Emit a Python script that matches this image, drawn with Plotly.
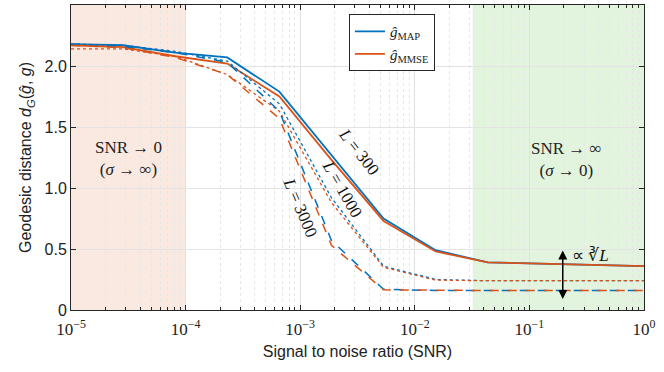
import numpy as np
import plotly.graph_objects as go

# SNR sample points (log spaced, 12 points from 1e-5 to 1)
snr = np.logspace(-5, 0, 12)

# geodesic distance
map_300 = [2.18, 2.17, 2.11, 2.07, 1.79, 1.27, 0.75, 0.49, 0.39, 0.38, 0.37, 0.36]
mmse_300 = [2.17, 2.155, 2.08, 2.02, 1.75, 1.23, 0.73, 0.48, 0.39, 0.38, 0.37, 0.36]
map_1000 = [2.18, 2.17, 2.12, 2.04, 1.69, 0.92, 0.36, 0.25, 0.24, 0.24, 0.24, 0.24]
mmse_1000 = [2.14, 2.14, 2.08, 1.93, 1.63, 0.88, 0.35, 0.245, 0.24, 0.24, 0.24, 0.24]
map_3000 = [2.18, 2.16, 2.11, 2.03, 1.63, 0.57, 0.17, 0.16, 0.16, 0.16, 0.16, 0.16]
mmse_3000 = [2.17, 2.15, 2.07, 1.93, 1.57, 0.53, 0.165, 0.16, 0.16, 0.16, 0.16, 0.16]

y_ticks = [0, 0.5, 1.0, 1.5, 2.0, 2.5]
y_ticktext = ["0", "0.5", "1.0", "1.5", "2.0", "2.5"]
x_ticks = [1e-5, 1e-4, 1e-3, 1e-2, 1e-1, 1]
x_ticktext = ["10<sup>\u22125</sup>", "10<sup>\u22124</sup>", "10<sup>\u22123</sup>",
              "10<sup>\u22122</sup>", "10<sup>\u22121</sup>", "10<sup>0</sup>"]
x_minor = [m * 10.0 ** e for e in range(-5, 0) for m in range(2, 10)]

BLUE = "#0072BD"
ORANGE = "#D95319"
SERIF = "Liberation Serif"
SANS = "Liberation Sans"

fig = go.Figure()

series = [
    (map_300, BLUE, "solid", 1.8, "<i>ĝ</i><sub>MAP</sub>", True),
    (mmse_300, ORANGE, "solid", 1.8, "<i>ĝ</i><sub>MMSE</sub>", True),
    (map_1000, BLUE, "dot", 1.3, "MAP L=1000", False),
    (mmse_1000, ORANGE, "dot", 1.3, "MMSE L=1000", False),
    (map_3000, BLUE, "dash", 1.5, "MAP L=3000", False),
    (mmse_3000, ORANGE, "dash", 1.5, "MMSE L=3000", False),
]
for vals, col, dash, w, name, leg in series:
    fig.add_trace(go.Scatter(x=snr, y=vals, mode="lines", name=name, showlegend=leg,
                             line=dict(color=col, dash=dash, width=w)))

# shaded regimes
fig.add_shape(type="rect", xref="x", yref="y", x0=1e-5, x1=1e-4, y0=0, y1=2.5,
              fillcolor="#FAE9E0", line=dict(width=0), layer="below")
fig.add_shape(type="rect", xref="x", yref="y", x0=0.032, x1=1, y0=0, y1=2.5,
              fillcolor="#E3F4DE", line=dict(width=0), layer="below")

txt_font = dict(family=SERIF, size=17, color="#222222")
fig.add_annotation(x=-4.494, y=1.24, text="SNR \u2192 0<br>(<i>\u03c3</i> \u2192 \u221e)",
                   showarrow=False, font=txt_font)
fig.add_annotation(x=-0.672, y=1.23, text="SNR \u2192 \u221e<br>(<i>\u03c3</i> \u2192 0)",
                   showarrow=False, font=txt_font)

lab_font = dict(family=SERIF, size=17, color="#111111")
fig.add_annotation(x=-2.49, y=1.30, text="<i>L</i> = 300", textangle=52,
                   showarrow=False, font=lab_font)
fig.add_annotation(x=-2.63, y=0.99, text="<i>L</i> = 1000", textangle=60,
                   showarrow=False, font=lab_font)
fig.add_annotation(x=-3.000, y=0.84, text="<i>L</i> = 3000", textangle=67,
                   showarrow=False, font=lab_font)

# double arrow for cube-root scaling
fig.add_annotation(x=-0.709, y=0.09, ax=-0.709, ay=0.50, axref="x", ayref="y",
                   text="", showarrow=True, arrowhead=2, arrowside="end+start",
                   arrowsize=1.2, arrowwidth=1.5, arrowcolor="black")
fig.add_annotation(x=-0.471, y=0.45, text="\u221d \u221b<i>L</i>", showarrow=False,
                   font=dict(family=SERIF, size=17, color="#111111"))

axis_common = dict(showline=True, linecolor="#262626", linewidth=1, mirror="ticks",
                   ticks="inside", ticklen=5, tickcolor="#262626", zeroline=False)

fig.update_xaxes(type="log", range=[-5, 0], tickvals=x_ticks, ticktext=x_ticktext,
                 tickfont=dict(family=SERIF, size=17, color="#222222"),
                 ticklabelstandoff=4,
                 showgrid=True, gridcolor="#E0E0E0", gridwidth=1,
                 minor=dict(tickvals=x_minor, ticks="inside", ticklen=3, tickcolor="#262626",
                            showgrid=True, gridcolor="#E6E6E6", griddash="dot", gridwidth=1),
                 title=dict(text="Signal to noise ratio (SNR)",
                            font=dict(family=SANS, size=16, color="#222222"), standoff=7),
                 **axis_common)
fig.update_yaxes(range=[0, 2.5], tickvals=y_ticks, ticktext=y_ticktext,
                 tickfont=dict(family=SANS, size=16, color="#222222"),
                 showgrid=True, gridcolor="#E3E3E3", gridwidth=1,
                 title=dict(text="Geodesic distance <i>d<sub>G</sub></i>(<i>ĝ</i>, <i>g</i>)",
                            font=dict(family=SANS, size=16, color="#222222"), standoff=8),
                 **axis_common)

fig.update_layout(
    width=664, height=372,
    margin=dict(l=71, r=20, t=5, b=62),
    plot_bgcolor="white", paper_bgcolor="white",
    legend=dict(x=0.485, y=0.97, xanchor="left", yanchor="top",
                bordercolor="#262626", borderwidth=1, bgcolor="white",
                font=dict(family=SERIF, size=15, color="#222222"),
                tracegroupgap=0),
)

fig.write_html("out.html", config={"displayModeBar": False},
               post_script="document.body.style.margin='0';")
